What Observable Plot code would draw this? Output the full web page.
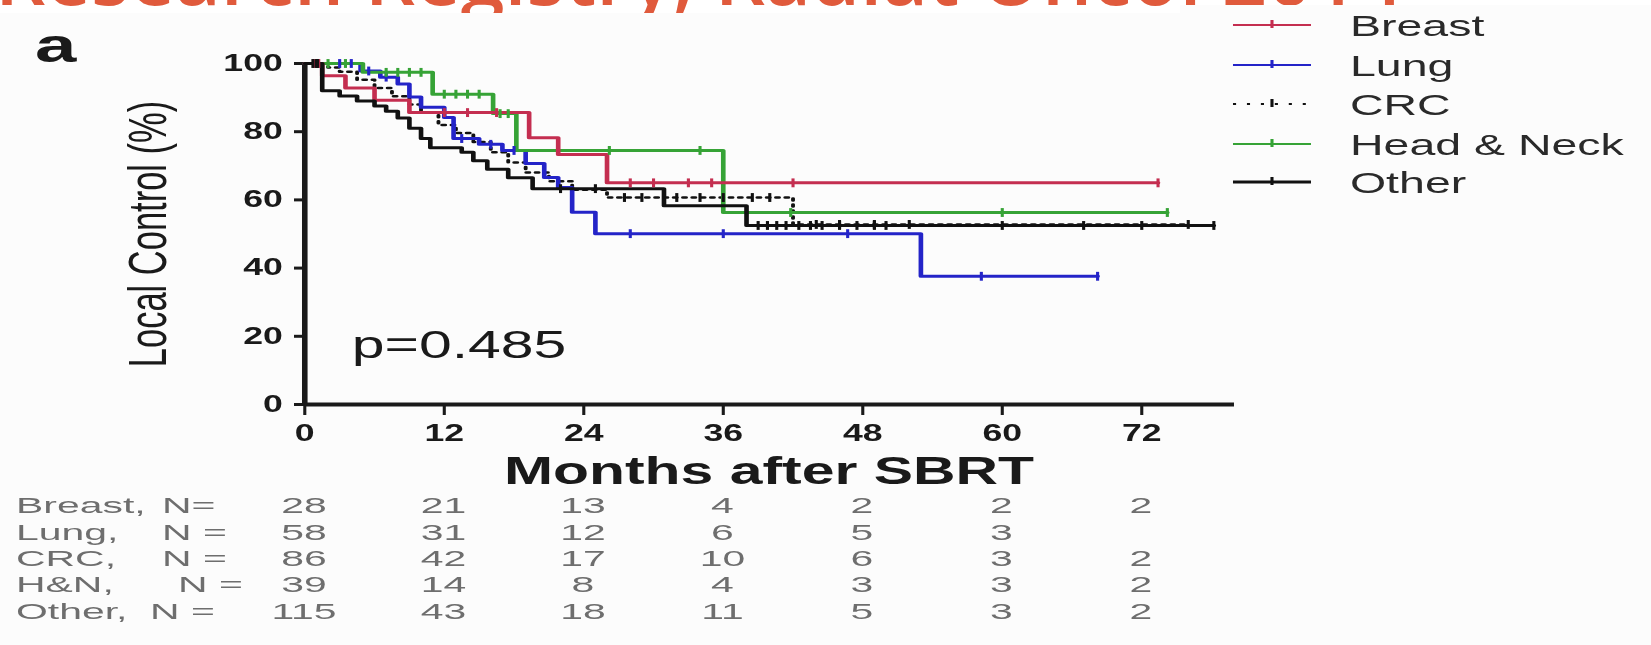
<!DOCTYPE html>
<html>
<head>
<meta charset="utf-8">
<script src="https://cdn.jsdelivr.net/npm/d3@7"></script>
<script src="https://cdn.jsdelivr.net/npm/@observablehq/plot@0.6"></script>
<style>
  html, body { margin: 0; padding: 0; background: #fff; }
  body { width: 1651px; height: 645px; overflow: hidden; position: relative; }
  #title {
    position: absolute; left: -5px; top: -65px; white-space: nowrap; z-index: 1;
    font-family: "Open Sans", sans-serif; font-weight: 600; font-size: 79px;
    line-height: 1; color: #e05a3c;
  }
  /* panels of the pasted figure sit on top of the slide title */
  .panel { position: absolute; background: #fcfcfc; z-index: 2; }
  #chartPanel { left: 0; top: 13px; width: 1651px; height: 632px; }
  #legendPanel { left: 1180px; top: 5px; width: 471px; height: 200px; }
  #figure { position: absolute; left: 0; top: 0; transform-origin: 0 0; z-index: 3; }
</style>
</head>
<body>
<div id="title">Research Registry, Radiat Oncol 2014</div>
<div class="panel" id="chartPanel"></div>
<div class="panel" id="legendPanel"></div>
<div id="figure"></div>
<script>
// Kaplan–Meier local control by primary site (months after SBRT)
const series = ["Breast", "Lung", "CRC", "Head & Neck", "Other"];
const colors = ["#c42e50", "#2424c8", "#111111", "#36a336", "#111111"];

// step-curve change points: time (months) and local control (%)
const breastT = [0, 1.5, 3.5, 6, 9, 19.3, 21.8, 26.0, 73.4];
const breastS = [100, 96.4, 92.8, 89.2, 85.6, 78.2, 73.3, 65.0, 65.0];
const breastCens = [0.8, 1.2, 12, 14, 16.5, 28, 30, 33, 35, 42, 73.4];

const lungT = [0, 4.8, 6.5, 8, 9, 10, 12, 12.8, 15, 17, 19, 20.6, 21.8, 23, 25, 53, 68.2];
const lungS = [100, 97.8, 96.0, 94.0, 90.2, 87.2, 84.2, 78.0, 76.3, 74.5, 70.7, 66.6, 63.6, 56.4, 50.1, 37.6, 37.6];
const lungCens = [3, 4, 5.5, 7, 13.5, 16, 18, 28, 36, 46.7, 58.2, 68.2];

const crcT = [0, 2, 3, 4.5, 6, 7.5, 9, 10, 11.5, 13, 14.5, 16, 17.5, 19, 21, 23, 26, 42, 76];
const crcS = [100, 98.8, 97.6, 95.2, 92.8, 90.4, 88.0, 85.6, 82.0, 79.6, 77.0, 74.0, 71.0, 68.0, 65.5, 63.0, 60.7, 52.8, 52.8];
const crcCens = [1, 27.5, 29, 32, 34, 36, 38.5, 40, 44, 46, 49, 52, 76];

const hnT = [0, 5, 11, 16.2, 18.2, 36, 74.2];
const hnS = [100, 97.4, 91.0, 85.3, 74.5, 56.3, 56.3];
const hnCens = [2, 3.5, 7, 8, 9, 10, 12, 13, 14, 15, 16.8, 17.5, 26.2, 34, 41.8, 60, 74.2];

const otherT = [0, 1.5, 3, 4.5, 6, 7, 8, 9, 10, 10.8, 13.5, 14.5, 15.7, 17.5, 19.6, 30.9, 38, 78.2];
const otherS = [100, 92.0, 90.5, 89.0, 87.5, 86.0, 84.0, 81.0, 78.0, 75.3, 74.0, 71.5, 69.0, 66.5, 63.3, 58.3, 52.5, 52.5];
const otherCens = [0.7, 1.1, 22, 25, 39, 39.8, 40.6, 41.4, 42.5, 43.5, 44.5, 46, 47.5, 49, 50, 60, 67, 72, 78.2];

// axes
const xTicks = [0, 12, 24, 36, 48, 60, 72];
const yTicks = [0, 20, 40, 60, 80, 100];
const pValue = "p=0.485";

// numbers at risk
const riskTimes = [0, 12, 24, 36, 48, 60, 72];
const riskNames = ["Breast,", "Lung,", "CRC,", "H&N,", "Other,"];
const riskN = ["N=", "N =", "N =", "N =", "N ="];
const riskBreast = [28, 21, 13, 4, 2, 2, 2];
const riskLung = [58, 31, 12, 6, 5, 3, null];
const riskCRC = [86, 42, 17, 10, 6, 3, 2];
const riskHN = [39, 14, 8, 4, 3, 3, 2];
const riskOther = [115, 43, 18, 11, 5, 3, 2];

// ---- build tables ----
const curveSets = [
  [breastT, breastS, breastCens],
  [lungT, lungS, lungCens],
  [crcT, crcS, crcCens],
  [hnT, hnS, hnCens],
  [otherT, otherS, otherCens]
];
const valueAt = (T, S, t) => { let v = S[0]; for (let i = 0; i < T.length; i++) if (T[i] <= t) v = S[i]; return v; };
const steps = [], marks = [];
curveSets.forEach(([T, S, C], k) => {
  T.forEach((t, i) => steps.push({group: series[k], t, s: S[i]}));
  C.forEach(t => marks.push({group: series[k], t, s: valueAt(T, S, t)}));
});
const riskRows = [riskBreast, riskLung, riskCRC, riskHN, riskOther];

// figure is drawn narrow and widened horizontally
const sx = 1.55;
const W = 1651 / sx;
const X0 = 304, X1 = 1234, Y0 = 63, Y1 = 404;

const censorTick = { draw(ctx, size) { const h = Math.sqrt(size); ctx.moveTo(0, -h / 2); ctx.lineTo(0, h / 2); } };
const colorOf = d3.scaleOrdinal(series, colors);
const drawOrder = ["CRC", "Lung", "Head & Neck", "Breast", "Other"];

const plot = Plot.plot({
  width: W, height: 645,
  marginLeft: X0 / sx, marginRight: (1651 - X1) / sx, marginTop: Y0, marginBottom: 645 - Y1,
  x: {domain: [0, 80]},
  y: {domain: [0, 100]},
  style: {fontFamily: "'Liberation Sans', Arial, sans-serif", background: "transparent", overflow: "visible", color: "#1a1a1a"},
  marks: [
    Plot.axisY(yTicks, {tickSize: 10 / sx, tickPadding: 12 / sx, fontSize: 23, fontWeight: "bold", strokeWidth: 3, label: null}),
    Plot.axisX(xTicks, {tickSize: 11, tickPadding: 9, fontSize: 23, fontWeight: "bold", strokeWidth: 2, label: null}),
    Plot.ruleX([0], {strokeWidth: 3.6, stroke: "#1a1a1a"}),
    Plot.ruleY([0], {strokeWidth: 4, stroke: "#1a1a1a"}),
    Plot.line(steps.filter(d => d.group === "CRC"), {x: "t", y: "s", stroke: colorOf("CRC"), curve: "step-after", strokeWidth: 2.5, strokeDasharray: "2,4"}),
    ...drawOrder.filter(g => g !== "CRC").map(g =>
      Plot.line(steps.filter(d => d.group === g), {x: "t", y: "s", stroke: colorOf(g), curve: "step-after", strokeWidth: 3})),
    Plot.dot(marks, {x: "t", y: "s", symbol: censorTick, r: 5, fill: "none", stroke: d => colorOf(d.group), strokeWidth: 2}),
    Plot.text([pValue], {frameAnchor: "bottom-left", dx: 47 / sx, dy: -59, fontSize: 38, textAnchor: "start", lineAnchor: "middle", fill: "#1a1a1a"})
  ]
});

const fig = document.getElementById("figure");
fig.appendChild(plot);
fig.style.transform = `scaleX(${sx})`;

const svg = d3.select(plot);
const xs = plot.scale("x");
const ann = svg.append("g").attr("font-family", "'Liberation Sans', Arial, sans-serif").attr("text-anchor", "start");

// panel letter
ann.append("text").attr("x", 35 / sx).attr("y", 62).attr("font-size", 48).attr("font-weight", "bold").attr("fill", "#1a1a1a").text("a");

// y axis title
ann.append("text").attr("transform", `translate(${147 / sx},${234}) rotate(-90)`).attr("text-anchor", "middle")
  .attr("dy", "0.35em").attr("font-size", 34.5).attr("fill", "#1a1a1a").text("Local Control (%)");

// x axis title
ann.append("text").attr("x", xs.apply(40)).attr("y", 484).attr("text-anchor", "middle")
  .attr("font-size", 38).attr("font-weight", "bold").attr("fill", "#1a1a1a").text("Months after SBRT");

// legend
const legendY = [25, 65, 104, 144, 182];
series.forEach((name, k) => {
  const g = ann.append("g").attr("transform", `translate(0,${legendY[k]})`);
  g.append("line").attr("x1", 1233 / sx).attr("x2", 1311 / sx).attr("y1", 0).attr("y2", 0)
    .attr("stroke", colors[k]).attr("stroke-width", name === "Other" ? 3 : 2)
    .attr("stroke-dasharray", name === "CRC" ? "2,7" : null);
  g.append("line").attr("x1", 1272 / sx).attr("x2", 1272 / sx).attr("y1", -5).attr("y2", 3)
    .attr("stroke", colors[k]).attr("stroke-width", 2);
  g.append("text").attr("x", 1350 / sx).attr("dy", "0.36em").attr("font-size", 30).attr("fill", "#2a2a2a").text(name);
});

// numbers at risk (table text is a little wider than the chart text)
const rowY = [513, 540, 566, 592, 619];
const nX = [162, 162, 162, 178, 150];
const tableText = (x, y, str, anchor) => ann.append("text")
  .attr("transform", `translate(${x},${y}) scale(1.2,1)`).attr("text-anchor", anchor)
  .attr("font-size", 22).attr("fill", "#6e6e6e").text(str);
riskNames.forEach((name, r) => {
  tableText(16 / sx, rowY[r], name, "start");
  tableText(nX[r] / sx, rowY[r], riskN[r], "start");
  riskRows[r].forEach((n, c) => {
    if (n != null) tableText(xs.apply(riskTimes[c]), rowY[r], String(n), "middle");
  });
});
</script>
</body>
</html>
